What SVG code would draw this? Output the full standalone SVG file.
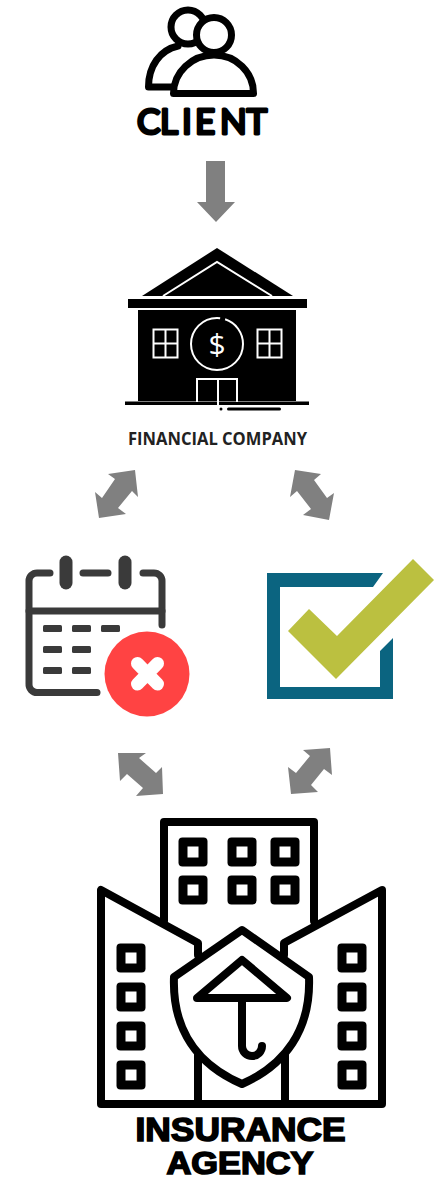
<svg xmlns="http://www.w3.org/2000/svg" width="439" height="1180" viewBox="0 0 439 1180">
<style>
.arr{fill:#808080}
.ln{fill:none;stroke:#000;stroke-width:8;stroke-linejoin:round;stroke-linecap:round}
.wl{fill:none;stroke:#fff;stroke-width:2}
.cal{fill:none;stroke:#3a3a3a;stroke-width:7;stroke-linecap:round}
.cell{fill:#3a3a3a}
.ins{font-family:"Liberation Sans",Arial,sans-serif;font-weight:700;fill:#000;stroke:#000;stroke-width:1.600;text-anchor:middle}
</style>
<defs>
<g id="w"><rect x="-14.500" y="-14.500" width="29" height="29" rx="4" fill="#000"/><rect x="-5.500" y="-5.500" width="11" height="11" fill="#fff"/></g>
</defs>
<rect width="439" height="1180" fill="#fff"/>
<g id="client">
<circle cx="188" cy="27" r="17" fill="none" stroke="#000" stroke-width="7"/>
<path d="M172 87H148.500C148.500 66 160 50 178 46" fill="none" stroke="#000" stroke-width="7" stroke-linecap="round" stroke-linejoin="round"/>
<path d="M173.500 93.500C173.500 72 192 55 214 55C236 55 253.500 72 253.500 93.500Z" fill="#fff" stroke="#000" stroke-width="7" stroke-linejoin="round"/>
<circle cx="214" cy="35" r="17.500" fill="#fff" stroke="#000" stroke-width="7"/>
<text x="137 160 182 195 220 246.500" y="133.500" font-family="Lato,'Liberation Sans',sans-serif" font-weight="400" font-size="35" stroke="#000" stroke-width="3" stroke-linejoin="round" stroke-linecap="round">CLIENT</text>
</g>
<g id="financial-company">
<path d="M217 248L293 296H142Z" fill="#000"/>
<path d="M163 296L217 262L272 296" fill="none" stroke="#fff" stroke-width="2"/>
<rect x="128" y="299" width="179" height="9"/>
<rect x="138" y="310" width="158" height="91"/>
<rect x="125" y="401.500" width="184" height="3.500"/>
<rect x="153.500" y="329.500" width="24" height="28" class="wl"/>
<path d="M165.500 329.500V357.500M153.500 343.500H177.500" class="wl"/>
<rect x="257.500" y="329.500" width="24" height="28" class="wl"/>
<path d="M269.500 329.500V357.500M257.500 343.500H281.500" class="wl"/>
<circle cx="217" cy="344" r="26" fill="none" stroke="#fff" stroke-width="2" stroke-dasharray="125 5 33"/>
<text x="217" y="354.500" font-family="'Open Sans','Liberation Sans',sans-serif" font-size="30" fill="#fff" text-anchor="middle">$</text>
<path d="M197 402V379H237V402" class="wl"/>
<path d="M218 379V405" class="wl"/>
<circle cx="221" cy="409" r="1.500"/>
<rect x="227" y="407.500" width="54" height="3" rx="1.500"/>
<text x="217.500" y="445" font-family="'Open Sans','Liberation Sans',sans-serif" font-weight="700" font-size="17" fill="#222" text-anchor="middle" textLength="179" lengthAdjust="spacingAndGlyphs">FINANCIAL COMPANY</text>
</g>
<g id="declined">
<path d="M50 573H37A8 8 0 0 0 29 581V684A8 8 0 0 0 37 692.500H97" class="cal"/>
<path d="M143 573H154A8 8 0 0 1 162 581V625" class="cal"/>
<path d="M83 573H108M29 611H162" class="cal"/>
<rect x="59.500" y="555.500" width="13" height="34" rx="6.500" class="cell"/>
<rect x="118.500" y="555.500" width="13" height="34" rx="6.500" class="cell"/>
<rect x="43" y="625" width="19" height="7" rx="1.500" class="cell"/><rect x="72" y="625" width="19" height="7" rx="1.500" class="cell"/><rect x="101" y="625" width="19" height="7" rx="1.500" class="cell"/>
<rect x="43" y="646" width="19" height="7" rx="1.500" class="cell"/><rect x="72" y="646" width="19" height="7" rx="1.500" class="cell"/>
<rect x="43" y="667" width="19" height="7" rx="1.500" class="cell"/><rect x="72" y="667" width="19" height="7" rx="1.500" class="cell"/>
<circle cx="147" cy="674" r="47" fill="#fff"/>
<circle cx="147" cy="674" r="42.500" fill="#ff4343"/>
<path d="M137.500 663.500L157.500 684M157.500 663.500L137.500 684" fill="none" stroke="#fff" stroke-width="13" stroke-linecap="round"/>
</g>
<g id="approved">
<path d="M267 573H383L373 587H280V687H380V651L393 638V699H267Z" fill="#0b6480"/>
<path d="M413 559L434 580L336 679L288 631L309 609L337 636Z" fill="#bbc040"/>
</g>
<g id="insurance-agency">
<path d="M164 921V822H314V921" class="ln"/>
<path d="M198 955V943L101 890V1104H382V890L284 943V955" class="ln"/>
<path d="M198 1055V1104M285 1055V1104" class="ln"/>
<path d="M242 930L309 977C311 1030 285 1065 242 1084C198 1065 172 1030 174 977Z" fill="#fff" stroke="#000" stroke-width="8" stroke-linejoin="round"/>
<path d="M242 960L287 998H197Z" class="ln"/>
<path d="M242 998V1046A10 10 0 0 0 262 1046" class="ln"/>
<use href="#w" x="193" y="852"/><use href="#w" x="242" y="852"/><use href="#w" x="285" y="852"/>
<use href="#w" x="193" y="890"/><use href="#w" x="242" y="890"/><use href="#w" x="285" y="890"/>
<use href="#w" x="131" y="958"/><use href="#w" x="131" y="997"/><use href="#w" x="131" y="1036"/><use href="#w" x="131" y="1075"/>
<use href="#w" x="352" y="958"/><use href="#w" x="352" y="997"/><use href="#w" x="352" y="1036"/><use href="#w" x="352" y="1075"/>
<text x="240.500" y="1140.500" class="ins" font-size="33" textLength="210" lengthAdjust="spacingAndGlyphs">INSURANCE</text>
<text x="240" y="1173.500" class="ins" font-size="31" textLength="147" lengthAdjust="spacingAndGlyphs">AGENCY</text>
</g>
<g id="connectors">
<polygon class="arr" points="206,161 225,161 225,202 235,202 216,222 197,202 206,202"/>
<polygon class="arr" points="135,470 108,474 115,479 102,498 95,492 99,518 126,514 118,508 132,491 138,497"/>
<polygon class="arr" points="295,470 321,474 314,480 327,498 334,493 329,520 303,515 311,509 297,491 290,497"/>
<polygon class="arr" points="118,753 146,753 139,758 156,773 162,767 163,794 136,796 143,788 127,774 120,781"/>
<polygon class="arr" points="330,748 303,750 310,756 296,773 288,767 291,794 318,792 311,785 324,769 332,775"/>
</g>
</svg>
